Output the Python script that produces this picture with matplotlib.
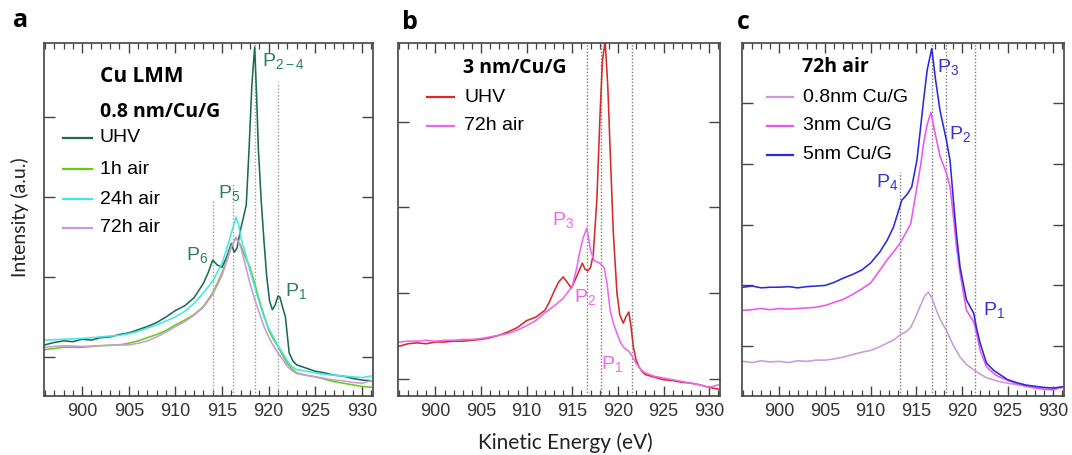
import matplotlib
matplotlib.use("Agg")
import matplotlib.pyplot as plt
from matplotlib.ticker import MultipleLocator, NullFormatter

plt.rcParams['font.family'] = ['Liberation Sans', 'DejaVu Sans']
plt.rcParams['mathtext.fontset'] = 'custom'
plt.rcParams['mathtext.rm'] = 'Liberation Sans'
plt.rcParams['mathtext.it'] = 'Liberation Sans'

# ---- panel a : 0.8 nm/Cu/G ----
a_uhv_e = [896, 897, 898, 899, 900, 901, 902, 903, 904, 905, 906, 907, 908, 909, 910, 911, 912,
           913, 913.5, 914, 914.5, 915, 915.5, 916, 916.3, 916.6, 917, 917.3, 917.6, 917.9, 918.2,
           918.5, 918.7, 918.9, 919.2, 919.5, 919.8, 920.1, 920.4, 920.7, 921, 921.2, 921.5, 921.8,
           922.2, 922.6, 923, 924, 925, 926, 927, 928, 929, 930, 931]
a_uhv_i = [1.15, 1.18, 1.2, 1.19, 1.22, 1.21, 1.24, 1.25, 1.28, 1.3, 1.34, 1.38, 1.43, 1.5, 1.58, 1.64, 1.74,
           1.92, 2.05, 2.21, 2.15, 2.12, 2.25, 2.42, 2.31, 2.36, 2.6, 2.75, 2.9, 3.6, 4.4,
           4.88, 4.3, 3.6, 2.96, 2.45, 2.0, 1.7, 1.59, 1.65, 1.76, 1.75, 1.62, 1.5,
           1.05, 0.95, 0.9, 0.86, 0.82, 0.8, 0.77, 0.76, 0.73, 0.71, 0.7]

a_1h_e = [896, 898, 900, 902, 904, 905, 906, 907, 908, 909, 910, 911, 912, 913, 914, 915, 915.5, 916,
          916.5, 917, 917.5, 918, 918.5, 919, 919.5, 920, 920.5, 921, 921.5, 922, 922.5, 923, 924,
          925, 926, 927, 928, 929, 930, 931]
a_1h_i = [1.09, 1.12, 1.12, 1.14, 1.15, 1.17, 1.2, 1.24, 1.28, 1.33, 1.4, 1.46, 1.53, 1.63, 1.8, 2.05, 2.2, 2.38,
          2.49, 2.4, 2.25, 2.12, 1.92, 1.71, 1.52, 1.34, 1.22, 1.13, 1.02, 0.92, 0.85, 0.8, 0.77,
          0.75, 0.72, 0.69, 0.67, 0.65, 0.63, 0.62]

a_24h_e = [896, 898, 900, 902, 904, 905, 906, 907, 908, 909, 910, 911, 912, 913, 914, 915, 915.5, 916,
           916.5, 916.8, 917, 917.5, 918, 918.5, 919, 919.5, 920, 920.5, 921, 921.5, 922, 922.5, 923,
           924, 925, 926, 927, 928, 929, 930, 931]
a_24h_i = [1.21, 1.22, 1.23, 1.25, 1.27, 1.29, 1.32, 1.36, 1.4, 1.45, 1.5, 1.57, 1.67, 1.8, 1.95, 2.17, 2.35, 2.55,
           2.75, 2.65, 2.5, 2.3, 2.08, 1.88, 1.68, 1.5, 1.36, 1.25, 1.14, 1.05, 0.95, 0.88, 0.84,
           0.82, 0.8, 0.78, 0.77, 0.76, 0.75, 0.74, 0.76]

a_72h_e = [896, 898, 900, 902, 904, 905, 906, 907, 908, 909, 910, 911, 912, 913, 914, 915, 915.5, 916,
           916.5, 917, 917.5, 918, 918.5, 919, 919.5, 920, 920.5, 921, 921.5, 922, 922.5, 923, 924,
           925, 926, 927, 928, 929, 930, 931]
a_72h_i = [1.12, 1.14, 1.13, 1.14, 1.15, 1.15, 1.17, 1.2, 1.25, 1.31, 1.38, 1.44, 1.52, 1.62, 1.78, 2.02, 2.2, 2.38,
           2.5, 2.38, 2.15, 1.92, 1.72, 1.55, 1.38, 1.25, 1.14, 1.05, 0.97, 0.88, 0.83, 0.79, 0.77,
           0.75, 0.73, 0.71, 0.7, 0.68, 0.67, 0.7]

a_marks = [914.0, 916.2, 918.5, 921.0]
a_mark_top = [2.96, 3.18, 4.93, 4.44]

# ---- panel b : 3 nm/Cu/G ----
b_uhv_e = [896, 897, 898, 899, 900, 901, 902, 903, 904, 905, 906, 907, 908, 909, 910, 911, 912, 912.5,
           913, 913.5, 914, 914.5, 914.9, 915.5, 916.1, 916.4, 916.7, 917, 917.3, 917.7, 918.05, 918.3,
           918.6, 918.9, 919.15, 919.5, 919.9, 920.2, 920.6, 920.9, 921.2, 921.45, 921.7, 922, 922.3,
           922.7, 923, 924, 925, 926, 927, 928, 929, 930, 931]
b_uhv_i = [1.38, 1.41, 1.42, 1.41, 1.43, 1.43, 1.44, 1.44, 1.45, 1.46, 1.48, 1.51, 1.55, 1.6, 1.68, 1.72, 1.8, 1.9,
           2.02, 2.13, 2.19, 2.12, 2.06, 2.2, 2.35, 2.28, 2.26, 2.3, 2.45, 3.1, 4.1, 4.7,
           4.95, 4.4, 3.67, 2.7, 2.0, 1.75, 1.65, 1.73, 1.78, 1.6, 1.37, 1.22, 1.14,
           1.08, 1.05, 1.02, 0.99, 0.98, 0.96, 0.95, 0.93, 0.9, 0.88]

b_72h_e = [896, 897, 898, 899, 900, 901, 902, 903, 904, 905, 906, 907, 908, 909, 910, 911, 912, 913,
           914, 915, 915.5, 915.8, 916.2, 916.6, 917, 917.4, 918, 918.5, 918.8, 919.15, 919.5, 919.9,
           920.3, 920.7, 921.2, 921.6, 922, 922.6, 923, 924, 925, 926, 927, 928, 929, 930, 931]
b_72h_i = [1.43, 1.44, 1.44, 1.45, 1.44, 1.45, 1.45, 1.46, 1.46, 1.47, 1.49, 1.51, 1.53, 1.57, 1.62, 1.68, 1.77, 1.85,
           1.94, 2.08, 2.3, 2.47, 2.65, 2.76, 2.5, 2.38, 2.35, 2.3, 2.12, 1.8, 1.65, 1.53,
           1.42, 1.36, 1.32, 1.26, 1.18, 1.1, 1.07, 1.03, 1.01, 0.99, 0.97, 0.95, 0.93, 0.9, 0.93]

b_marks = [916.6, 918.2, 921.5]

# ---- panel c : 72h air ----
c_08_e = [896, 897, 898, 899, 900, 901, 902, 903, 904, 905, 906, 907, 908, 909, 910, 911, 911.8, 912.5,
          913.2, 914, 914.4, 915, 915.4, 915.9, 916.3, 916.7, 917.2, 917.7, 918.3, 919, 919.8, 920.5,
          921.3, 922, 922.7, 924, 925, 926.3, 927, 928, 929, 930, 931]
c_08_i = [0.75, 0.73, 0.76, 0.74, 0.75, 0.73, 0.76, 0.75, 0.77, 0.77, 0.79, 0.82, 0.86, 0.9, 0.93, 0.99, 1.05, 1.1,
          1.18, 1.25, 1.31, 1.5, 1.65, 1.82, 1.89, 1.8, 1.59, 1.42, 1.26, 1.03, 0.82, 0.7,
          0.61, 0.54, 0.48, 0.42, 0.39, 0.36, 0.35, 0.33, 0.32, 0.31, 0.32]

c_3_e = [896, 897, 898, 899, 900, 901, 902, 903, 904, 905, 906, 907, 908, 909, 910, 911, 911.8, 912.5,
         913.2, 913.8, 914.4, 915.07, 915.5, 915.8, 916.2, 916.6, 917, 917.6, 918.3, 918.7, 919.07, 919.4,
         919.8, 920.5, 921.3, 921.6, 922, 922.7, 923.5, 924, 925, 926, 927, 928, 929, 930, 931]
c_3_i = [1.59, 1.6, 1.62, 1.6, 1.62, 1.61, 1.62, 1.63, 1.64, 1.67, 1.72, 1.77, 1.85, 1.94, 2.04, 2.25, 2.42, 2.55,
         2.69, 2.85, 3.02, 3.62, 4.0, 4.34, 4.65, 4.85, 4.55, 4.13, 3.85, 3.62, 3.13, 2.65,
         2.2, 1.59, 1.4, 1.22, 0.93, 0.66, 0.55, 0.5, 0.44, 0.38, 0.34, 0.31, 0.29, 0.28, 0.33]

c_5_e = [896, 897, 898, 899, 900, 901, 902, 903, 904, 905, 906, 907, 908, 909, 910, 911, 911.8, 912.5,
         913, 913.4, 914, 914.5, 915.07, 915.4, 915.8, 916.2, 916.7, 917.1, 917.6, 918, 918.3, 918.7,
         919.07, 919.4, 919.8, 920.5, 921.3, 921.6, 922, 922.7, 923.5, 924, 925, 926, 927, 928, 929,
         930, 931]
c_5_i = [1.97, 1.99, 1.96, 1.97, 1.97, 1.98, 1.96, 1.98, 1.99, 2.0, 2.05, 2.12, 2.18, 2.25, 2.37, 2.55, 2.74, 2.96,
         3.2, 3.4, 3.5, 3.62, 4.06, 4.5, 5.05, 5.55, 5.9, 5.4, 4.88, 4.6, 4.39, 4.06,
         3.4, 2.85, 2.3, 1.76, 1.54, 1.3, 1.05, 0.72, 0.6, 0.55, 0.45, 0.4, 0.36, 0.34, 0.32,
         0.31, 0.33]

c_marks = [913.2, 916.7, 918.3, 921.4]
c_mark_top = [3.86, 5.99, 5.99, 5.99]

fig = plt.figure(figsize=(10.72, 4.55), dpi=100)
ax_a = fig.add_axes([0.041, 0.1297, 0.307, 0.7758])
ax_b = fig.add_axes([0.3713, 0.1297, 0.3004, 0.7758])
ax_c = fig.add_axes([0.6922, 0.1297, 0.3004, 0.7758])

dot = (0, (1, 1.4))
lw = 1.15

for ax in (ax_a, ax_b, ax_c):
    ax.set_xlim(895.9, 931.2)
    ax.xaxis.set_major_locator(MultipleLocator(5))
    ax.xaxis.set_minor_locator(MultipleLocator(1))
    ax.yaxis.set_major_locator(MultipleLocator(1))
    ax.yaxis.set_major_formatter(NullFormatter())
    ax.tick_params(axis='x', which='major', direction='in', top=True, length=7, width=1,
                   labelsize=13, labelcolor='#333333', color='#444444', pad=5)
    ax.tick_params(axis='x', which='minor', direction='in', top=True, length=4, width=0.9,
                   color='#444444')
    ax.tick_params(axis='y', which='major', direction='in', right=True, length=8, width=1,
                   color='#444444')
    for sp in ax.spines.values():
        sp.set_color('#444444')
        sp.set_linewidth(1.2)

# panel a
ax_a.set_ylim(0.51, 4.93)
ax_a.vlines(a_marks, 0.51, a_mark_top, colors='#999999', linestyles=dot, lw=1)
ax_a.plot(a_uhv_e, a_uhv_i, color='#1d6b56', lw=lw)
ax_a.plot(a_1h_e, a_1h_i, color='#66cc11', lw=lw)
ax_a.plot(a_24h_e, a_24h_i, color='#44e6e6', lw=lw)
ax_a.plot(a_72h_e, a_72h_i, color='#cc99dd', lw=lw)
green = '#2e7d64'
ax_a.text(919.3, 4.7, r'P$_{\mathregular{2-4}}$', color=green, fontsize=14, ha='left', va='center')
ax_a.text(914.6, 3.05, r'P$_{\mathregular{5}}$', color=green, fontsize=14, ha='left', va='center')
ax_a.text(911.1, 2.28, r'P$_{\mathregular{6}}$', color=green, fontsize=14, ha='left', va='center')
ax_a.text(921.8, 1.82, r'P$_{\mathregular{1}}$', color=green, fontsize=14, ha='left', va='center')
ax_a.text(0.17, 0.904, 'Cu LMM', transform=ax_a.transAxes, fontsize=15, fontweight='bold',
          family='Open Sans', ha='left', va='center')
ax_a.text(0.17, 0.805, '0.8 nm/Cu/G', transform=ax_a.transAxes, fontsize=14, fontweight='bold',
          family='Open Sans', ha='left', va='center')
for yy, lab, col in [(0.731, 'UHV', '#1d6b56'), (0.643, '1h air', '#66cc11'),
                     (0.558, '24h air', '#44e6e6'), (0.476, '72h air', '#cc99dd')]:
    ax_a.plot([0.058, 0.146], [yy, yy], transform=ax_a.transAxes, color=col, lw=1.6)
    ax_a.text(0.17, yy, lab, transform=ax_a.transAxes, fontsize=14, ha='left', va='center')

# panel b
ax_b.set_ylim(0.80, 4.92)
ax_b.vlines(b_marks, 0.80, 4.92, colors='#777777', linestyles=dot, lw=1)
ax_b.plot(b_uhv_e, b_uhv_i, color='#d42a2a', lw=lw)
ax_b.plot(b_72h_e, b_72h_i, color='#ee66ee', lw=lw)
pink = '#ee66ee'
ax_b.text(914.0, 2.85, r'P$_{\mathregular{3}}$', color=pink, fontsize=14, ha='center', va='center')
ax_b.text(916.4, 1.95, r'P$_{\mathregular{2}}$', color=pink, fontsize=14, ha='center', va='center')
ax_b.text(919.4, 1.17, r'P$_{\mathregular{1}}$', color=pink, fontsize=14, ha='center', va='center')
ax_b.text(0.202, 0.929, '3 nm/Cu/G', transform=ax_b.transAxes, fontsize=14, fontweight='bold',
          family='Open Sans', ha='left', va='center')
for yy, lab, col in [(0.847, 'UHV', '#d42a2a'), (0.765, '72h air', '#ee66ee')]:
    ax_b.plot([0.09, 0.174], [yy, yy], transform=ax_b.transAxes, color=col, lw=1.6)
    ax_b.text(0.205, yy, lab, transform=ax_b.transAxes, fontsize=14, ha='left', va='center')

# panel c
ax_c.set_ylim(0.18, 5.99)
ax_c.vlines(c_marks, 0.18, c_mark_top, colors='#777777', linestyles=dot, lw=1)
ax_c.plot(c_08_e, c_08_i, color='#cc99dd', lw=lw)
ax_c.plot(c_3_e, c_3_i, color='#ee55ee', lw=lw)
ax_c.plot(c_5_e, c_5_i, color='#2a2add', lw=lw)
blue = '#3535cc'
ax_c.text(917.3, 5.6, r'P$_{\mathregular{3}}$', color=blue, fontsize=14, ha='left', va='center')
ax_c.text(918.6, 4.5, r'P$_{\mathregular{2}}$', color=blue, fontsize=14, ha='left', va='center')
ax_c.text(910.6, 3.7, r'P$_{\mathregular{4}}$', color=blue, fontsize=14, ha='left', va='center')
ax_c.text(922.3, 1.6, r'P$_{\mathregular{1}}$', color=blue, fontsize=14, ha='left', va='center')
ax_c.text(0.186, 0.932, '72h air', transform=ax_c.transAxes, fontsize=14, fontweight='bold',
          family='Open Sans', ha='left', va='center')
for yy, lab, col in [(0.847, '0.8nm Cu/G', '#cc99dd'), (0.765, '3nm Cu/G', '#ee55ee'),
                     (0.683, '5nm Cu/G', '#2a2add')]:
    ax_c.plot([0.078, 0.158], [yy, yy], transform=ax_c.transAxes, color=col, lw=1.6)
    ax_c.text(0.189, yy, lab, transform=ax_c.transAxes, fontsize=14, ha='left', va='center')

# panel letters and shared labels
for xx, yy, lett in [(0.019, 0.955, 'a'), (0.382, 0.950, 'b'), (0.693, 0.950, 'c')]:
    fig.text(xx, yy, lett, fontsize=18, fontweight='bold', family='Open Sans', ha='center', va='center')
fig.text(0.527, 0.027, 'Kinetic Energy (eV)', fontsize=15, family='Lato', ha='center', va='center',
         color='#222222')
fig.text(0.019, 0.523, 'Intensity (a.u.)', fontsize=14, family='Lato', rotation=90,
         ha='center', va='center', color='#222222')

fig.savefig('out.png', dpi=100, facecolor='white')
